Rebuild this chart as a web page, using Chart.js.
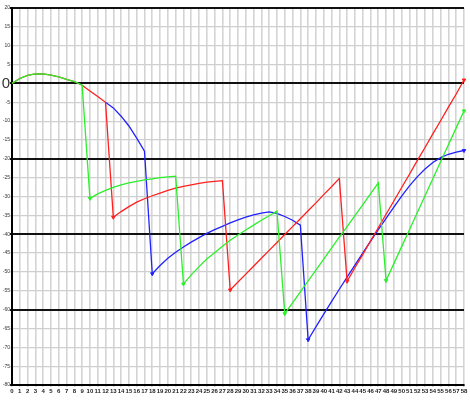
<!DOCTYPE html>
<html>
<head>
<meta charset="utf-8">
<script src="https://cdn.jsdelivr.net/npm/chart.js@4"></script>
<style>
html,body{margin:0;padding:0;background:#fff;}
#wrap{width:470px;height:400px;}
</style>
</head>
<body>
<div id="wrap"><canvas id="c" width="470" height="400"></canvas></div>
<script>
const xLabels = Array.from({length:59},(_,i)=>String(i));
const yMin = -80, yMax = 20, yStep = 5;
const boldLines = [20, 0, -20, -40, -60, -80];

const greenValues = [0,1.3,2.1,2.5,2.5,2.2,1.7,1.1,0.5,-0.5,
  -30.5,-29.3,-28.4,-27.6,-26.9,-26.4,-26.0,-25.6,-25.3,-25.0,-24.8,-24.6,
  -53.2,-50.8,-48.6,-46.6,-44.9,-43.2,-41.6,-40.2,-38.9,-37.6,-36.3,-35.1,-33.9,
  -61.1,-58.2,-55.3,-52.4,-49.5,-46.6,-43.7,-40.8,-38.0,-35.1,-32.2,-29.3,-26.4,
  -52.3,-47.8,-43.3,-38.8,-34.3,-29.8,-25.3,-20.8,-16.3,-11.8,-7.3];
const redValues = [0,1.3,2.1,2.5,2.5,2.2,1.7,1.1,0.5,-0.5,
  -2.0,-3.5,-5.0,
  -35.5,-34.0,-32.7,-31.5,-30.6,-29.8,-29.1,-28.4,-27.8,-27.3,-26.9,-26.5,-26.2,-26.0,-25.8,
  -54.8,-52.7,-50.6,-48.5,-46.4,-44.3,-42.2,-40.1,-38.0,-35.9,-33.8,-31.7,-29.5,-27.4,-25.2,
  -52.5,-48.9,-45.4,-41.8,-38.3,-34.7,-31.2,-27.6,-24.1,-20.5,-17.0,-13.4,-9.9,-6.3,-2.8,0.9];
const blueValues = [null,null,null,null,null,null,null,null,null,null,null,null,
  -5.0,-6.5,-8.7,-11.3,-14.5,-18.0,
  -50.5,-48.3,-46.4,-44.8,-43.4,-42.1,-40.9,-39.8,-38.8,-37.9,-37.0,-36.2,-35.5,-34.9,-34.4,-34.1,-34.5,-35.3,-36.3,-37.6,
  -68.0,-64.6,-61.2,-57.9,-54.6,-51.4,-48.2,-45.0,-41.9,-38.8,-35.8,-32.8,-29.9,-27.2,-24.8,-22.7,-21.0,-19.7,-18.8,-18.2,-17.8];

const greenMarks = [10,22,35,48,58];
const redMarks = [13,28,43,58];
const blueMarks = [18,38,58];

function ds(label, data, color, marks){
  return {
    label, data,
    borderColor: color, backgroundColor: color,
    borderWidth: 1.3,
    tension: 0,
    pointStyle: 'triangle',
    rotation: 180,
    pointRadius: ctx => marks.includes(ctx.dataIndex) ? 2 : 0,
    pointHoverRadius: 0,
    pointBorderWidth: 1,
    spanGaps: false
  };
}

new Chart(document.getElementById('c'), {
  type: 'line',
  data: {
    labels: xLabels,
    datasets: [
      ds('Green', greenValues, '#2af02a', greenMarks),
      ds('Red', redValues, '#ff2020', redMarks),
      ds('Blue', blueValues, '#2222ff', blueMarks)
    ]
  },
  options: {
    responsive: false,
    animation: false,
    events: [],
    layout: { padding: { left: 0, right: 6, top: 8, bottom: 0 } },
    plugins: { legend: { display: false }, tooltip: { enabled: false } },
    scales: {
      x: {
        offset: false,
        afterFit: s => { s.height = 15; },
        grid: { color: '#d4d4d4', lineWidth: 1.6, tickLength: 2, drawTicks: true },
        border: { color: '#000', width: 2 },
        ticks: { autoSkip: false, maxRotation: 0, minRotation: 0, padding: 1, color: '#222',
          font: { family: 'Liberation Sans Narrow, Liberation Sans, Arial', size: 6, weight: 'bold' } }
      },
      y: {
        min: yMin, max: yMax,
        afterFit: s => { s.width = 12; },
        grid: {
          color: ctx => boldLines.includes(ctx.tick.value) ? '#111' : '#cfcfcf',
          lineWidth: ctx => boldLines.includes(ctx.tick.value) ? 2 : 1.2,
          tickLength: 2
        },
        border: { color: '#000', width: 2 },
        ticks: {
          stepSize: yStep, autoSkip: false, padding: 0, color: '#333',
          font: ctx => (ctx.tick && ctx.tick.value === 0)
            ? { family: 'Liberation Sans, Arial', size: 15 }
            : { family: 'Liberation Sans Narrow, Liberation Sans, Arial', size: 5 }
        }
      }
    }
  }
});
</script>
</body>
</html>
